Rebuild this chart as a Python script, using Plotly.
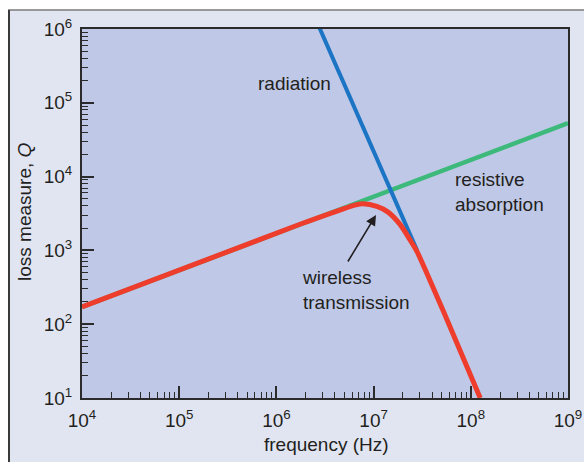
import plotly.graph_objects as go

# ---- data ----
freq_absorption = [1e4, 1e9]
q_absorption = [171, 53000]

freq_radiation = [2.6e6, 2.8e7]
q_radiation = [1.26e6, 1.0e3]

freq_wireless = [1e4, 1.75e6, 4.5e6, 6.4e6, 7.8e6, 1.08e7, 1.41e7, 1.87e7,
                 2.37e7, 2.8e7, 3.54e7, 5.2e7, 1.25e8]
q_wireless = [171, 2260, 3520, 4100, 4280, 3950, 3300, 2250,
              1390, 960, 485, 152, 10]

x_decades = [4, 5, 6, 7, 8, 9]
y_decades = [1, 2, 3, 4, 5, 6]
x_tick_labels = ["10<sup>%d</sup>" % d for d in x_decades]
y_tick_labels = ["10<sup>%d</sup>" % d for d in y_decades]

# ---- layout geometry ----
W, H = 584, 462
L, R, T, B = 82, 16, 29, 64
PW, PH = W - L - R, H - T - B


def px(xw):
    return (xw - L) / PW


def py(yw):
    return (H - B - yw) / PH


FONT = "Liberation Sans, Arial, sans-serif"
TXT = "#231f20"
AX = "#2b2b2b"


def minor_vals(decades):
    return [k * 10.0 ** d for d in decades[:-1] for k in range(2, 10)]


fig = go.Figure()
fig.add_trace(go.Scatter(x=freq_absorption, y=q_absorption, mode="lines",
                         line=dict(color="#3dba7b", width=4.5), showlegend=False))
fig.add_trace(go.Scatter(x=freq_radiation, y=q_radiation, mode="lines",
                         line=dict(color="#1b74c4", width=4), showlegend=False))
fig.add_trace(go.Scatter(x=freq_wireless, y=q_wireless, mode="lines",
                         line=dict(color="#ee3d2c", width=5, shape="spline",
                                   smoothing=0.8),
                         showlegend=False))

axis_common = dict(
    type="log", showline=True, linecolor=AX, linewidth=2, automargin=False,
    mirror=True, ticks="inside", ticklen=12, tickwidth=1.5, tickcolor=AX,
    showgrid=False, zeroline=False, tickmode="array",
    tickfont=dict(family=FONT, size=19, color=TXT),
)


def txt(text, xw, yw, xanchor="center", **kw):
    return dict(text=text, xref="paper", yref="paper", x=px(xw), y=py(yw),
                xanchor=xanchor, yanchor="middle", showarrow=False,
                font=dict(size=19, family=FONT, color=TXT), **kw)


fig.update_layout(
    width=W, height=H, autosize=False,
    margin=dict(l=L, r=R, t=T, b=B, pad=0, autoexpand=False),
    paper_bgcolor="#e1e5f2",
    plot_bgcolor="#bfc9e7",
    font=dict(family=FONT, color=TXT),
    xaxis=dict(range=[x_decades[0], x_decades[-1]],
               tickvals=[10.0 ** d for d in x_decades], ticktext=x_tick_labels,
               ticklabelstandoff=4,
               minor=dict(ticks="inside", ticklen=6, tickwidth=1.2,
                          tickcolor=AX, tickmode="array",
                          tickvals=minor_vals(x_decades), showgrid=False),
               **axis_common),
    yaxis=dict(range=[y_decades[0], y_decades[-1]],
               tickvals=[10.0 ** d for d in y_decades], ticktext=y_tick_labels,
               ticklabelstandoff=4,
               minor=dict(ticks="inside", ticklen=6, tickwidth=1.2,
                          tickcolor=AX, tickmode="array",
                          tickvals=minor_vals(y_decades), showgrid=False),
               **axis_common),
    shapes=[
        dict(type="rect", xref="paper", yref="paper", x0=px(-2), x1=px(W + 2),
             y0=py(10), y1=py(-2), fillcolor="white", line=dict(width=0)),
        dict(type="rect", xref="paper", yref="paper", x0=px(-2), x1=px(8),
             y0=py(H + 2), y1=py(-2), fillcolor="white", line=dict(width=0)),
        dict(type="line", xref="paper", yref="paper", x0=px(8), x1=px(W + 2),
             y0=py(10), y1=py(10), line=dict(color="#7a7a7a", width=1.5)),
        dict(type="line", xref="paper", yref="paper", x0=px(9), x1=px(9),
             y0=py(10), y1=py(H + 2), line=dict(color="#3a3a3a", width=2)),
    ],
    annotations=[
        txt("frequency (Hz)", 326, 445),
        txt("loss measure, <i>Q</i>", 24, 212, textangle=-90),
        txt("radiation", 294, 83),
        txt("resistive<br>absorption", 453, 192, xanchor="left", align="left"),
        txt("wireless<br>transmission", 300, 290, xanchor="left", align="left"),
        dict(text="", xref="paper", yref="paper", x=px(376), y=py(215),
             ax=-29, ay=48, showarrow=True, arrowhead=2, arrowsize=1.3,
             arrowwidth=1.6, arrowcolor=TXT),
    ],
)

# Remove the default page margin first, then draw the figure at its exact size.
post = (
    "document.body.style.margin='0';"
    "document.body.style.padding='0';"
    "document.body.style.overflow='hidden';"
    "var gd=document.getElementById('{plot_id}');"
    "Plotly.relayout(gd,{width:%d,height:%d});" % (W, H)
)

fig.write_html(
    "out.html",
    config={"responsive": False, "displayModeBar": False},
    post_script=post,
)
